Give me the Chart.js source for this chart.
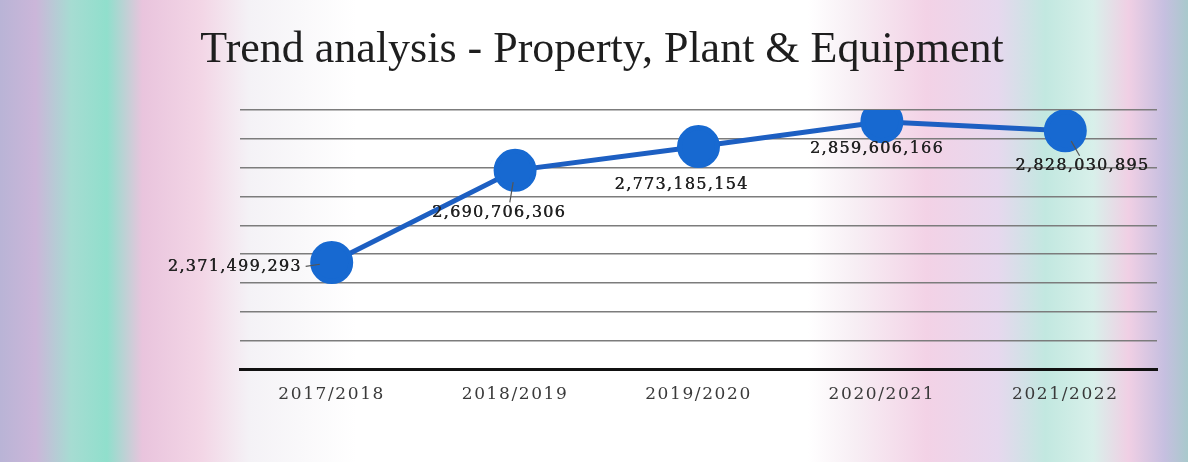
<!DOCTYPE html>
<html>
<head>
<meta charset="utf-8">
<script src="https://cdn.jsdelivr.net/npm/chart.js@4"></script>
<style>
  html, body { margin: 0; padding: 0; }
  body {
    width: 1188px; height: 462px; overflow: hidden;
    background: linear-gradient(to right,
      #b9b4d6 0%, #cbb6d9 3%, #a6dcd2 6%, #90dfcc 9%, #e9c4dd 12%,
      #f3d6e6 17%, #f4f2f6 21%, #ffffff 30%, #ffffff 68%, #f7eef4 72%,
      #f3d2e6 78%, #e6d8ee 84%, #c2e8e0 88%, #d8f0ea 92%, #f0cfe4 95%,
      #c6bfe0 98%, #a9c9cc 100%);
  }
  #wrap { width: 1188px; height: 462px; }
</style>
</head>
<body>
<div id="wrap"><canvas id="ppeTrend"></canvas></div>
<script>
// chart values
var years = ["2017/2018", "2018/2019", "2019/2020", "2020/2021", "2021/2022"];
var ppeValues = [2371499293, 2690706306, 2773185154, 2859606166, 2828030895];
var yMin = 2000000000;
var yMax = 2900000000;
var yStep = 100000000;

var chartTitle = "Trend analysis - Property, Plant & Equipment";

// where each value label sits relative to its point
var labelPlace = [
  { dx: -30, dy: 4, align: 'right', leader: true },
  { dx: -16, dy: 42, align: 'center', leader: true },
  { dx: -17, dy: 38, align: 'center', leader: false },
  { dx: -5, dy: 27, align: 'center', leader: false },
  { dx: 17, dy: 35, align: 'center', leader: true }
];

function fmt(n) {
  return n.toString().replace(/\B(?=(\d{3})+(?!\d))/g, ",");
}

var letterSpacingPlugin = {
  id: 'letterSpacing',
  beforeDraw: function (chart) {
    chart.ctx.letterSpacing = '1.6px';
  }
};

var valueLabels = {
  id: 'valueLabels',
  afterDatasetsDraw: function (chart) {
    var ctx = chart.ctx;
    var meta = chart.getDatasetMeta(0);
    ctx.save();
    ctx.letterSpacing = '1.3px';
    ctx.font = '16px "DejaVu Serif"';
    ctx.fillStyle = '#222222';
    ctx.textBaseline = 'middle';
    meta.data.forEach(function (pt, i) {
      var p = labelPlace[i];
      var tx = pt.x + p.dx;
      var ty = pt.y + p.dy;
      ctx.textAlign = p.align;
      var text = fmt(ppeValues[i]);
      ctx.fillText(text, tx, ty);
      ctx.fillText(text, tx + 0.4, ty);
      if (p.leader) {
        var w = ctx.measureText(text).width;
        var sx, sy;
        if (p.align === 'right') { sx = tx + 4; sy = ty; }
        else { sx = tx + (p.dx < 0 ? w * 0.08 : w * -0.02); sy = ty - 10; }
        var ang = Math.atan2(pt.y - sy, pt.x - sx);
        ctx.beginPath();
        ctx.strokeStyle = '#555555';
        ctx.lineWidth = 1.2;
        ctx.moveTo(sx, sy);
        ctx.lineTo(pt.x - Math.cos(ang) * 12, pt.y - Math.sin(ang) * 12);
        ctx.stroke();
      }
    });
    ctx.restore();
  },
  afterDraw: function (chart) {
    var ctx = chart.ctx;
    ctx.save();
    ctx.letterSpacing = '0px';
    ctx.font = '44px "Liberation Serif"';
    ctx.fillStyle = '#1e1e1e';
    ctx.textAlign = 'center';
    ctx.textBaseline = 'middle';
    ctx.fillText(chartTitle, 602, 50);
    ctx.restore();
  }
};

var ppeCtx = document.getElementById("ppeTrend");
var ppeConfig = {
  type: 'line',
  data: {
    labels: years,
    datasets: [{
      label: 'Property, Plant & Equipment',
      data: ppeValues,
      borderColor: '#1d5fc2',
      borderWidth: 5,
      backgroundColor: '#1769d1',
      pointBackgroundColor: '#1769d1',
      pointBorderColor: '#1769d1',
      pointRadius: 19,
      pointHoverRadius: 19,
      tension: 0,
      fill: false
    }]
  },
  options: {
    responsive: true,
    maintainAspectRatio: false,
    animation: false,
    layout: {
      padding: { left: 240, right: 31, top: 110, bottom: 42 }
    },
    plugins: {
      legend: { display: false },
      title: { display: false },
      tooltip: { enabled: false }
    },
    scales: {
      x: {
        offset: true,
        grid: { display: false, drawTicks: false },
        border: { display: true, color: '#111111', width: 3 },
        ticks: {
          padding: 15,
          color: '#3a3a3a',
          font: { family: 'DejaVu Serif', size: 17 }
        }
      },
      y: {
        min: yMin,
        max: yMax,
        grid: { color: '#7c7c7c', lineWidth: 1.5, drawTicks: false },
        border: { display: false },
        ticks: { display: false, stepSize: yStep }
      }
    }
  },
  plugins: [letterSpacingPlugin, valueLabels]
};
var ppeChart = new Chart(ppeCtx, ppeConfig);
</script>
</body>
</html>
